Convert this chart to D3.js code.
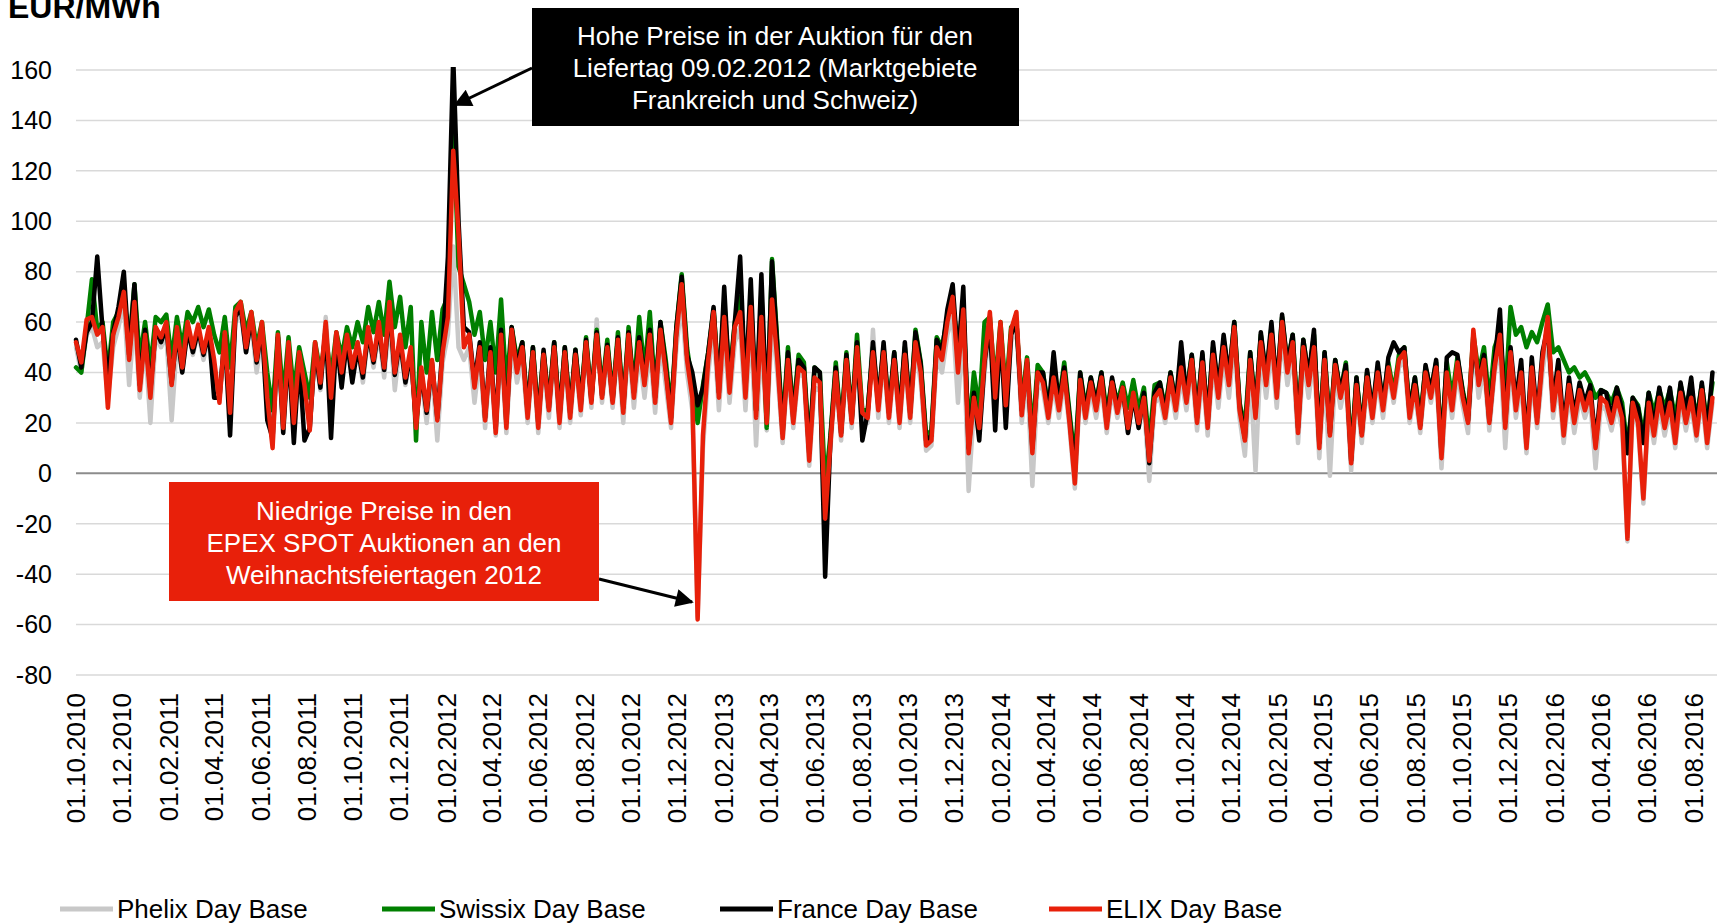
<!DOCTYPE html>
<html>
<head>
<meta charset="utf-8">
<script src="https://cdn.jsdelivr.net/npm/d3@7"></script>
<style>
  body { margin: 0; background: #fff; }
  svg { display: block; font-family: "Liberation Sans", Arial, sans-serif; }
</style>
</head>
<body>
<div class="chart"></div>
<script>
// weekly readings, first value on 01.10.2010, one value every 7 days
const startDay = new Date(2010, 9, 1);
const stepDays = 7;

const phelix = [50,40,55,58,50,52,30,50,58,68,
35,62,30,52,20,55,50,55,21,52,
40,58,47,56,45,55,40,30,52,25,
60,64,48,60,40,55,28,12,50,20,
48,22,45,33,18,48,33,62,32,54,
38,52,40,50,36,55,42,56,38,62,
33,52,35,46,20,38,20,42,13,44,
55,90,50,45,50,28,46,18,45,15,
50,16,52,36,46,20,45,16,44,22,
47,18,45,20,45,23,50,26,61,28,
47,26,50,20,52,26,48,30,50,24,
52,35,18,50,68,40,25,-57,10,40,
58,25,55,28,52,58,25,60,11,55,
17,60,40,12,42,18,40,38,3,34,
33,-8,10,38,13,42,18,48,22,20,
57,22,46,20,43,18,45,20,50,36,
9,11,46,40,55,62,28,58,-7,26,
16,40,58,27,55,24,52,58,20,40,
-5,36,33,20,35,22,37,18,-6,34,
20,33,22,35,16,33,22,32,16,30,
18,28,-3,28,30,20,35,22,38,25,
42,17,40,15,44,26,46,30,52,22,
7,40,1,48,30,50,26,55,35,48,
12,45,30,46,6,40,-1,40,26,37,
1,32,12,35,20,37,22,40,28,42,
45,20,32,16,38,28,40,2,37,22,
40,27,16,52,30,42,17,40,50,10,
44,22,36,8,38,18,40,55,22,36,
12,32,16,30,22,29,2,27,25,17,
27,18,-27,26,18,-12,25,12,27,15,
25,10,29,17,27,13,30,10,28];

const swissix = [42,40,58,77,57,60,40,60,64,72,
50,75,45,60,42,62,60,63,45,62,
50,64,60,66,58,65,55,48,62,42,
66,68,56,64,50,60,40,25,56,30,
54,32,50,40,30,52,40,55,38,56,
46,58,50,60,52,66,56,68,55,76,
58,70,50,66,13,60,40,64,45,65,
70,140,82,75,68,55,64,45,60,40,
69,35,58,45,52,25,50,22,48,28,
52,23,50,25,49,28,54,30,57,33,
53,30,56,27,58,33,62,40,64,32,
60,45,25,58,79,50,35,20,35,48,
65,35,68,38,60,70,35,70,25,72,
18,85,52,18,50,24,47,44,10,42,
40,-5,15,44,18,48,22,55,25,25,
50,28,50,25,48,24,50,25,57,44,
15,17,54,50,62,68,50,66,15,40,
25,60,62,35,60,32,58,60,28,46,
15,43,40,26,42,28,44,24,5,40,
26,38,28,40,24,37,28,36,26,37,
25,34,12,35,36,26,40,28,45,32,
47,24,47,22,50,33,53,38,60,28,
18,48,26,55,38,58,33,62,43,55,
20,53,38,55,14,48,18,45,32,44,
8,38,18,40,25,42,28,44,32,47,
50,25,38,22,42,33,44,12,44,30,
46,33,23,55,40,50,28,50,56,30,
66,55,58,50,56,52,60,67,48,50,
45,40,42,38,40,36,30,33,32,28,
34,28,10,30,27,15,32,24,33,26,
33,22,35,26,34,22,35,20,36];

const france = [53,42,56,60,86,57,38,56,66,80,
47,75,35,57,33,57,52,58,36,56,
40,57,48,57,47,56,30,30,55,15,
62,66,48,62,44,58,21,14,54,16,
50,12,46,13,18,50,34,58,14,54,
34,53,36,50,38,56,44,58,41,66,
39,53,36,48,20,40,24,44,22,50,
86,165,100,58,56,36,52,22,50,18,
57,20,58,42,52,24,50,20,49,26,
52,22,50,24,49,27,53,29,56,31,
51,29,54,26,56,32,54,37,57,30,
60,42,22,58,78,47,40,27,34,48,
66,32,74,35,60,86,33,77,25,79,
22,84,50,16,48,22,45,42,8,42,
40,-41,14,42,16,47,21,52,13,24,
52,27,52,24,48,22,52,24,56,43,
13,15,53,48,65,75,45,74,10,32,
13,44,60,17,58,18,55,60,25,44,
10,40,40,24,48,27,42,22,0,40,
24,38,27,40,20,38,26,34,16,31,
18,32,4,32,36,24,40,27,52,30,
47,22,48,20,52,33,55,38,60,27,
14,48,24,56,38,60,33,63,43,55,
18,53,38,57,12,48,16,45,32,43,
5,38,16,41,24,44,27,46,52,48,
50,24,38,19,43,32,45,8,46,48,
47,32,21,53,37,47,21,44,65,20,
50,28,45,12,46,22,48,58,28,45,
18,38,23,36,28,35,12,33,32,22,
34,25,8,30,26,12,32,18,34,21,
34,15,36,24,38,18,36,16,40];

const elix = [52,44,61,62,55,58,26,55,62,72,
45,68,33,55,30,58,54,60,35,58,
42,60,50,59,48,58,45,28,56,24,
64,68,50,64,45,60,30,10,55,18,
52,20,48,35,17,52,36,60,30,56,
40,55,42,52,40,58,45,60,42,68,
40,55,38,50,18,42,25,45,21,48,
62,128,95,50,55,34,50,21,48,16,
55,18,57,40,50,22,48,18,47,25,
50,20,48,22,47,25,52,28,55,30,
50,28,53,24,55,30,52,35,55,28,
57,40,20,55,75,45,30,-58,15,45,
64,30,62,32,58,64,30,66,22,62,
20,69,45,14,45,20,42,40,5,38,
36,-18,12,40,15,45,20,50,24,22,
48,25,48,22,45,20,47,22,52,40,
11,13,50,45,60,70,40,65,8,30,
18,45,64,30,60,27,57,64,23,45,
8,40,36,22,38,25,40,20,-4,37,
22,36,25,38,18,36,24,34,18,32,
20,30,5,30,33,22,38,25,42,28,
45,20,44,18,47,30,50,35,58,25,
13,45,22,52,35,55,30,60,40,52,
16,50,35,50,10,45,15,43,30,40,
4,35,15,38,22,40,25,42,30,45,
48,22,35,18,40,30,42,6,40,25,
44,30,20,57,35,45,20,42,55,18,
48,25,40,10,42,20,45,62,25,40,
15,35,20,33,25,32,10,30,28,20,
30,22,-26,28,20,-10,28,15,30,18,
28,12,32,20,30,15,33,12,30];

const seriesNames = ['Phelix Day Base', 'Swissix Day Base', 'France Day Base', 'ELIX Day Base'];
const seriesColors = ['#c8c8c8', '#008000', '#000000', '#e8200a'];
const yTicks = [160, 140, 120, 100, 80, 60, 40, 20, 0, -20, -40, -60, -80];
const xTickLabels = ['01.10.2010','01.12.2010',
  '01.02.2011','01.04.2011','01.06.2011','01.08.2011','01.10.2011','01.12.2011',
  '01.02.2012','01.04.2012','01.06.2012','01.08.2012','01.10.2012','01.12.2012',
  '01.02.2013','01.04.2013','01.06.2013','01.08.2013','01.10.2013','01.12.2013',
  '01.02.2014','01.04.2014','01.06.2014','01.08.2014','01.10.2014','01.12.2014',
  '01.02.2015','01.04.2015','01.06.2015','01.08.2015','01.10.2015','01.12.2015',
  '01.02.2016','01.04.2016','01.06.2016','01.08.2016'];
const noteHigh = ['Hohe Preise in der Auktion für den', 'Liefertag 09.02.2012 (Marktgebiete', 'Frankreich und Schweiz)'];
const noteLow = ['Niedrige Preise in den', 'EPEX SPOT Auktionen an den', 'Weihnachtsfeiertagen 2012'];

const width = 1723;
const height = 923;
const parseDay = d3.timeParse('%d.%m.%Y');

const svg = d3.select('.chart').append('svg')
  .attr('width', width)
  .attr('height', height);

const x = d3.scaleTime()
  .domain([startDay, new Date(2016, 8, 1)])
  .range([76, 1717]);
const y = d3.scaleLinear()
  .domain([-80, 160])
  .range([675, 70]);

// grid
svg.selectAll('.grid')
  .data(yTicks)
  .enter()
  .append('line')
  .attr('x1', 76)
  .attr('x2', 1717)
  .attr('y1', d=>y(d))
  .attr('y2', d=>y(d))
  .attr('stroke', d=>d===0 ? '#8c8c8c' : '#d9d9d9')
  .attr('stroke-width', d=>d===0 ? 2 : 1.5);

svg.selectAll('.y-label')
  .data(yTicks)
  .enter()
  .append('text')
  .attr('x', 52)
  .attr('y', d=>y(d))
  .attr('dy', '0.35em')
  .attr('text-anchor', 'end')
  .attr('font-size', 25)
  .text(d=>d);

svg.append('text')
  .attr('x', 8)
  .attr('y', 18)
  .attr('font-size', 32)
  .attr('font-weight', 'bold')
  .text('EUR/MWh');

svg.selectAll('.x-label')
  .data(xTickLabels)
  .enter()
  .append('text')
  .attr('transform', d=>`translate(${x(parseDay(d))},693) rotate(-90)`)
  .attr('dy', '0.35em')
  .attr('text-anchor', 'end')
  .attr('font-size', 26)
  .text(d=>d);

// lines
svg.append('clipPath').attr('id', 'plot')
  .append('rect')
  .attr('x', 60).attr('y', 67)
  .attr('width', 1663).attr('height', 620);

const line = d3.line()
  .x((d,i)=>x(d3.timeDay.offset(startDay, i*stepDays)))
  .y(d=>y(d));

svg.append('g')
  .attr('clip-path', 'url(#plot)')
  .selectAll('path')
  .data([phelix, swissix, france, elix])
  .enter()
  .append('path')
  .attr('d', line)
  .attr('fill', 'none')
  .attr('stroke', (d,i)=>seriesColors[i])
  .attr('stroke-width', 4.5)
  .attr('stroke-linejoin', 'round')
  .attr('stroke-linecap', 'round');

// notes
const defs = svg.append('defs');
defs.append('marker')
  .attr('id', 'head')
  .attr('viewBox', '0 0 10 10')
  .attr('refX', 9).attr('refY', 5)
  .attr('markerWidth', 7).attr('markerHeight', 6)
  .attr('markerUnits', 'strokeWidth')
  .attr('orient', 'auto')
  .append('path')
  .attr('d', 'M0,0 L10,5 L0,10 Z')
  .attr('fill', '#000');

svg.append('line')
  .attr('x1', 532).attr('y1', 68)
  .attr('x2', 455).attr('y2', 105)
  .attr('stroke', '#000').attr('stroke-width', 3)
  .attr('marker-end', 'url(#head)');

svg.append('line')
  .attr('x1', 599).attr('y1', 579)
  .attr('x2', 692).attr('y2', 602)
  .attr('stroke', '#000').attr('stroke-width', 3)
  .attr('marker-end', 'url(#head)');

svg.append('rect')
  .attr('x', 532).attr('y', 8)
  .attr('width', 487).attr('height', 118)
  .attr('fill', '#000');

svg.selectAll('.note-high')
  .data(noteHigh)
  .enter()
  .append('text')
  .attr('x', 775)
  .attr('y', (d,i)=>36 + i*32)
  .attr('dy', '0.35em')
  .attr('text-anchor', 'middle')
  .attr('font-size', 26)
  .attr('fill', '#fff')
  .text(d=>d);

svg.append('rect')
  .attr('x', 169).attr('y', 482)
  .attr('width', 430).attr('height', 119)
  .attr('fill', '#e8200a');

svg.selectAll('.note-low')
  .data(noteLow)
  .enter()
  .append('text')
  .attr('x', 384)
  .attr('y', (d,i)=>511 + i*32)
  .attr('dy', '0.35em')
  .attr('text-anchor', 'middle')
  .attr('font-size', 26)
  .attr('fill', '#fff')
  .text(d=>d);

// legend
const legendX = [60, 382, 720, 1049];
const legend = svg.selectAll('.legend')
  .data(seriesNames)
  .enter()
  .append('g')
  .attr('transform', (d,i)=>`translate(${legendX[i]},909)`);

legend.append('line')
  .attr('x1', 0).attr('x2', 53)
  .attr('stroke', (d,i)=>seriesColors[i])
  .attr('stroke-width', 5);

legend.append('text')
  .attr('x', 57)
  .attr('dy', '0.35em')
  .attr('font-size', 26)
  .text(d=>d);
</script>
</body>
</html>
